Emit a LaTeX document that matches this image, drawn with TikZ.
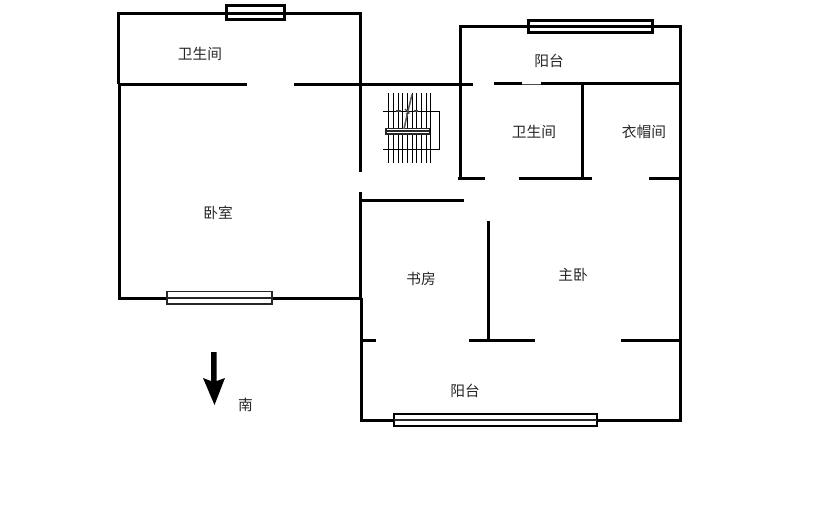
\documentclass[tikz,border=0pt]{standalone}
\usepackage{fontspec}
\newfontfamily\cjk{Noto Sans CJK SC}
\tikzset{
  wall/.style={line width=3pt,black,line cap=butt,line join=miter},
  winframe/.style={draw=black,fill=white,line width=3pt},
  winthin/.style={draw=black!85,fill=white,line width=1.5pt},
  winmid/.style={line width=2pt,black!85},
  stair/.style={line width=1pt,black},
  rail/.style={line width=1.2pt,black!85},
  room/.style={font=\cjk\fontsize{14.7}{14.7}\selectfont,text=black!85,inner sep=0pt},
}
\begin{document}
\begin{tikzpicture}[x=1pt,y=-1pt]
\useasboundingbox[fill=white] (0,0) rectangle (814,519);
% upper left bathroom and bedroom
\draw[wall] (118.5,84) -- (118.5,13.5) -- (360.5,13.5) -- (360.5,172);
\draw[wall] (118,84.5) -- (247,84.5);
\draw[wall] (294,84.5) -- (473,84.5);
\draw[wall] (494,83.5) -- (522,83.5);
\draw[line width=1pt,black!70] (522,85) -- (542,85);
\draw[wall] (541,83.5) -- (681,83.5);
\draw[wall] (119.5,84) -- (119.5,299.5);
\draw[wall] (118,298.5) -- (362,298.5);
% centre and right
\draw[wall] (360.5,192) -- (360.5,298);
\draw[wall] (361.5,298) -- (361.5,422);
\draw[wall] (360,200.5) -- (464,200.5);
\draw[wall] (460.5,178) -- (460.5,26.5) -- (680.5,26.5) -- (680.5,422);
\draw[wall] (582.5,84) -- (582.5,178);
\draw[wall] (458,178.5) -- (485,178.5);
\draw[wall] (519,178.5) -- (592,178.5);
\draw[wall] (649,178.5) -- (680,178.5);
\draw[wall] (488.5,221) -- (488.5,342);
\draw[wall] (360,340.5) -- (376,340.5);
\draw[wall] (469,340.5) -- (535,340.5);
\draw[wall] (621,340.5) -- (680,340.5);
\draw[wall] (361,420.5) -- (682,420.5);
% windows
\draw[winframe] (226.5,5.5) rectangle (284.5,19.5);
\draw[wall] (226,13.5) -- (285,13.5);
\draw[winframe] (528.5,20.5) rectangle (652.5,32.5);
\draw[wall] (528,26.5) -- (653,26.5);
\draw[winthin] (167,291.5) rectangle (272,304);
\draw[winmid] (167,298) -- (272,298);
\draw[winframe,line width=2pt] (394,414) rectangle (597,426);
\draw[winmid] (394,420) -- (597,420);
% stairs
\foreach \x in {388.5,393.5,398.5,402.5,407.5,412.5,416.5,421.5,426.5,430.5}
  \draw[stair] (\x,93) -- (\x,163);
\draw[stair] (382.5,111.5) -- (439.5,111.5) -- (439.5,149.5) -- (383,149.5);
\draw[rail,fill=white] (386,128.5) rectangle (429.5,134);
\draw[rail] (386,131) -- (429.5,131);
\draw[line width=1.6pt,black!65] (404,129) -- (407.5,113) -- (412,94.5);
\draw[line width=2pt,black!75] (396,111) -- (401,111);
\draw[line width=2pt,black!75] (414,111) -- (418,111);
\draw[line width=1.2pt,black!75] (405,109) -- (409,113) -- (406,114);
% south arrow
\fill[black] (211,352) -- (216.7,352) -- (216.7,381) -- (225,378) -- (214.5,405) -- (203,378) -- (211,381) -- cycle;
% labels
\node[room] (bath1) at (200,54) {卫生间};
\node[room] (balc1) at (549,61) {阳台};
\node[room] (bath2) at (534,132) {卫生间};
\node[room] (cloak) at (644,132) {衣帽间};
\node[room] (bed) at (218,213) {卧室};
\node[room] (study) at (421,279) {书房};
\node[room] (master) at (573,275) {主卧};
\node[room] (balc2) at (465,391) {阳台};
\node[room] (south) at (245.5,405) {南};
\end{tikzpicture}
\end{document}
